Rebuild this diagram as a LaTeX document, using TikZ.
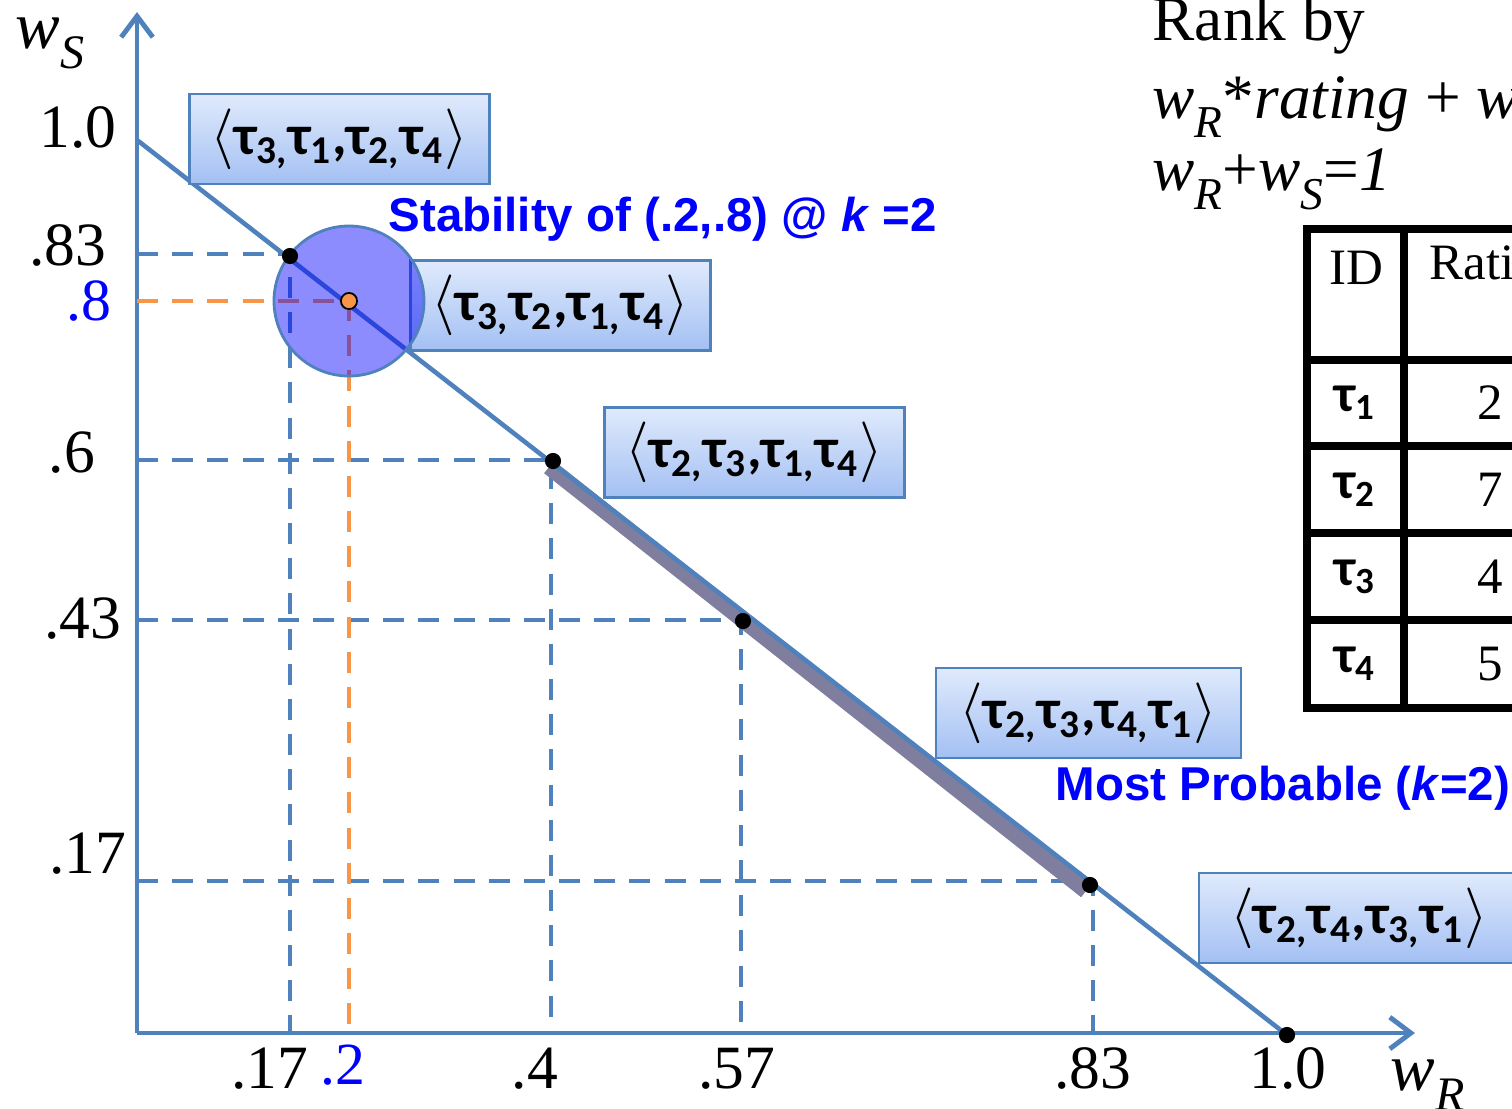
\documentclass[tikz,border=0pt]{standalone}
\usepackage{fontspec}
\setmainfont{Liberation Serif}
\newfontfamily\calib{Carlito}
\newfontfamily\arial{Liberation Sans}
\usetikzlibrary{arrows.meta}
\definecolor{axisblue}{RGB}{79,129,189}
\definecolor{guideorange}{RGB}{247,150,70}
\definecolor{boxtop}{RGB}{224,234,252}
\definecolor{boxbot}{RGB}{163,192,243}
\definecolor{bandgray}{RGB}{128,126,158}
\newcommand{\tsub}[1]{τ\textsubscript{#1}}
\newcommand{\rk}[4]{$\langle$\tsub{#1,}\tsub{#2},\tsub{#3,}\tsub{#4}$\rangle$}
\newcommand{\wsub}[1]{\textit{w}\raisebox{-0.3em}{\scalebox{0.72}{\textit{#1}}}}

\begin{document}
\begin{tikzpicture}[x=0.01cm, y=-0.01cm,
    axis/.style={line width=1.4pt, axisblue, -{Straight Barb[length=6pt,width=9pt]}},
    guide/.style={axisblue, line width=1.2pt, dash pattern=on 6pt off 4pt},
    rankbox/.style={draw=axisblue, line width=0.7pt, top color=boxtop, bottom color=boxbot,
        minimum width=3cm, minimum height=0.9cm, inner sep=0pt,
        font=\calib\bfseries\fontsize{16}{16}\selectfont},
    dot/.style={circle, fill=black, inner sep=0pt, minimum size=4.6pt},
    tick/.style={inner sep=0pt, anchor=base, font=\fontsize{17.5}{18}\selectfont},
    bluetick/.style={tick, text=blue, font=\fontsize{17}{17}\selectfont},
    note/.style={text=blue, inner sep=0pt, font=\arial\bfseries\fontsize{13.5}{14}\selectfont},
    cell/.style={inner sep=0pt, font=\fontsize{14.5}{15}\selectfont},
    tableline/.style={line width=2.3pt, black}
]
    \useasboundingbox (0,0) rectangle (1512,1108);
    \clip (0,0) rectangle (1512,1108);

    % axes
    \coordinate (o) at (137,1033);
    \coordinate (ytop) at (137,12);
    \coordinate (xend) at (1415,1033);
    \draw[axis] (o) -- (ytop);
    \draw[axis] (o) -- (xend);
    \node[anchor=base west, inner sep=0pt, font=\fontsize{19}{19}\selectfont] (ws) at (15,48) {\wsub{S}};
    \node[anchor=base west, inner sep=0pt, font=\fontsize{19}{19}\selectfont] (wr) at (1390,1090) {\wsub{R}};

    % points on the line
    \coordinate (w10) at (137,140);
    \coordinate (p17) at (290,256);
    \coordinate (p20) at (349,301);
    \coordinate (p40) at (553,461);
    \coordinate (p57) at (743,621);
    \coordinate (p83) at (1090,885);
    \coordinate (p100) at (1287,1035);

    % guide lines
    \coordinate (y83) at (137,254);
    \coordinate (y80) at (137,301);
    \coordinate (y60) at (137,460);
    \coordinate (y43) at (137,620);
    \coordinate (y17) at (137,881);
    \coordinate (x17) at (290,1033);
    \coordinate (x20) at (349,1033);
    \coordinate (x40) at (551,1033);
    \coordinate (x57) at (741,1033);
    \coordinate (x83) at (1093,1033);
    \draw[guide] (y83) -| (x17);
    \draw[guide] (y60) -| (x40);
    \draw[guide] (y43) -| (x57);
    \draw[guide] (y17) -| (x83);
    \draw[guide, guideorange] (y80) -| (x20);

    % most probable band and the line
    \draw[bandgray, line width=4.5pt] ([shift={(-4,6)}]p40) -- ([shift={(-4,6)}]p83);
    \draw[axisblue, line width=1.3pt] (w10) -- (p100);

    % rankings
    \node[rankbox] (r3124) at (339.5,139) {\rk{3}{1}{2}{4}};
    \node[rankbox] (r3214) at (560.5,305.5) {\rk{3}{2}{1}{4}};
    \node[rankbox] (r2314) at (754.5,452.5) {\rk{2}{3}{1}{4}};
    \node[rankbox, minimum width=3.05cm] (r2341) at (1088.5,713) {\rk{2}{3}{4}{1}};
    \node[rankbox, minimum width=3.2cm] (r2431) at (1359,918) {\rk{2}{4}{3}{1}};

    % stability region
    \fill[blue, fill opacity=0.45, draw=axisblue, draw opacity=1, line width=0.8pt] (p20) circle (75);

    \foreach \p in {p17,p40,p57,p83,p100}
        \node[dot] at (\p) {};
    \node[dot, fill=guideorange, draw=black, line width=0.5pt] (w20) at (p20) {};

    \node[note, anchor=west] (stab) at (388,219) {Stability of (.2,.8) @ \textit{k} =2};
    \node[note, anchor=west] (prob) at (1055,788) {Most Probable (\textit{k}=2)};

    % tick labels
    \node[tick] (ly10) at (78,147) {1.0};
    \node[tick] (ly83) at (68,265) {.83};
    \node[bluetick] (ly80) at (89,320) {.8};
    \node[tick] (ly60) at (72,472) {.6};
    \node[tick] (ly43) at (83,638) {.43};
    \node[tick] (ly17) at (88,873) {.17};
    \node[tick] (lx17) at (270,1088) {.17};
    \node[bluetick] (lx20) at (343,1084) {.2};
    \node[tick] (lx40) at (535,1088) {.4};
    \node[tick] (lx57) at (737,1088) {.57};
    \node[tick] (lx83) at (1093,1088) {.83};
    \node[tick] (lx10) at (1288,1088) {1.0};

    % formula
    \node[anchor=base west, inner sep=0pt, font=\fontsize{18}{18}\selectfont] (rank) at (1152,40) {Rank by};
    \node[anchor=base west, inner sep=0pt, font=\fontsize{18}{18}\selectfont] (score) at (1152,118) {\wsub{R}*\textit{rating} + \textit{w}};
    \node[anchor=base west, inner sep=0pt, font=\fontsize{18}{18}\selectfont] (sum) at (1152,190) {\wsub{R}+\wsub{S}=\textit{1}};

    % table
    \foreach \y in {229,360,446,533,620,708}
        \draw[tableline] (1303,\y) -- (1530,\y);
    \draw[tableline] (1307,229) -- (1307,708);
    \draw[tableline] (1404,229) -- (1404,708);
    \node[cell] (hid) at (1356,268) {ID};
    \node[cell, anchor=west] (hrat) at (1429,268) {Rating};
    \foreach \i/\y/\v in {1/403/2, 2/490/7, 3/577/4, 4/664/5} {
        \node[cell, font=\calib\bfseries\fontsize{15}{15}\selectfont] (t\i) at (1355,\y) {\tsub{\i}};
        \node[cell] (v\i) at (1490,\y) {\v};
    }
\end{tikzpicture}
\end{document}
